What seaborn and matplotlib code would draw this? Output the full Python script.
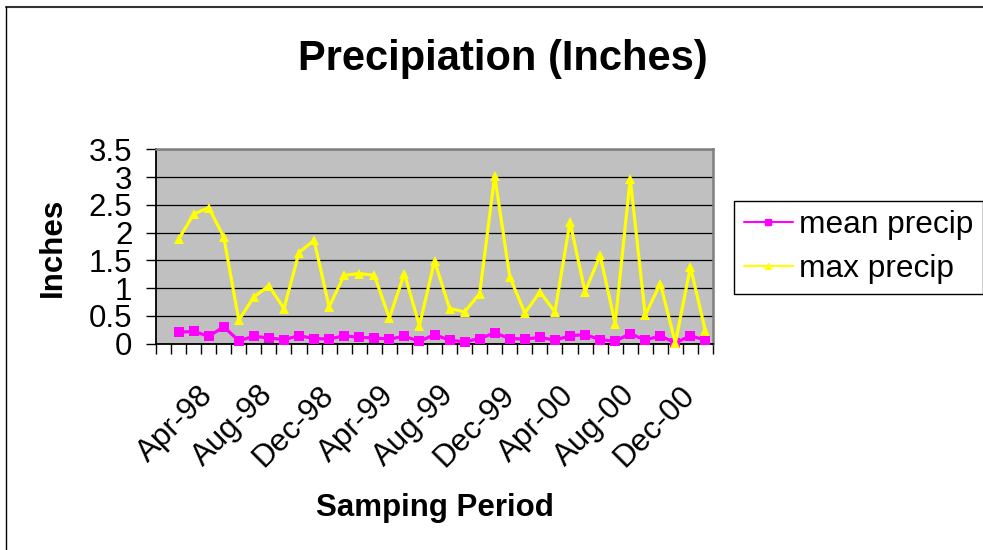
import pandas as pd
import matplotlib.pyplot as plt
import seaborn as sns
from matplotlib.lines import Line2D

# categories on the axis (Jan-98 has no data)
months = ['Jan-98', 'Feb-98', 'Mar-98', 'Apr-98', 'May-98', 'Jun-98', 'Jul-98', 'Aug-98',
          'Sep-98', 'Oct-98', 'Nov-98', 'Dec-98', 'Jan-99', 'Feb-99', 'Mar-99', 'Apr-99',
          'May-99', 'Jun-99', 'Jul-99', 'Aug-99', 'Sep-99', 'Oct-99', 'Nov-99', 'Dec-99',
          'Jan-00', 'Feb-00', 'Mar-00', 'Apr-00', 'May-00', 'Jun-00', 'Jul-00', 'Aug-00',
          'Sep-00', 'Oct-00', 'Nov-00', 'Dec-00', 'Jan-01']
tick_months = ['Apr-98', 'Aug-98', 'Dec-98', 'Apr-99', 'Aug-99', 'Dec-99',
               'Apr-00', 'Aug-00', 'Dec-00']
data_months = months[1:]

mean_precip = [0.20, 0.22, 0.13, 0.30, 0.05, 0.13, 0.10, 0.07, 0.14, 0.09, 0.08, 0.14,
               0.11, 0.10, 0.08, 0.13, 0.04, 0.16, 0.06, 0.03, 0.09, 0.19, 0.09, 0.08,
               0.11, 0.06, 0.14, 0.16, 0.07, 0.04, 0.18, 0.06, 0.14, 0.01, 0.14, 0.06]
max_precip = [1.88, 2.33, 2.45, 1.92, 0.42, 0.84, 1.04, 0.63, 1.64, 1.86, 0.66, 1.23,
              1.26, 1.23, 0.46, 1.26, 0.32, 1.49, 0.63, 0.57, 0.90, 3.02, 1.20, 0.55,
              0.93, 0.57, 2.19, 0.93, 1.59, 0.36, 2.97, 0.51, 1.08, 0.01, 1.38, 0.22]

sns.set_style('white')
plt.rcParams['font.family'] = ['Liberation Sans', 'DejaVu Sans']
plt.rcParams['text.color'] = 'black'
plt.rcParams['xtick.color'] = 'black'
plt.rcParams['ytick.color'] = 'black'
plt.rcParams['axes.labelcolor'] = 'black'

df = pd.DataFrame({
    'month': data_months * 2,
    'precip': mean_precip + max_precip,
    'series': ['mean precip'] * len(mean_precip) + ['max precip'] * len(max_precip),
})
df['pos'] = df['month'].map(months.index)

fig = plt.figure(figsize=(9.83, 5.5), dpi=100)
ax = fig.add_axes([156 / 983, 1 - 343.5 / 550, 557 / 983, 194.2 / 550])
ax.set_facecolor('#C0C0C0')

colors = {'mean precip': '#FF00FF', 'max precip': '#FFFF00'}
sns.lineplot(data=df, x='pos', y='precip', hue='series', style='series',
             hue_order=['mean precip', 'max precip'], style_order=['mean precip', 'max precip'],
             palette=colors, markers={'mean precip': 's', 'max precip': '^'}, dashes=False,
             markersize=7.5, linewidth=2.3, markeredgewidth=0, sort=False, legend=False,
             clip_on=False, ax=ax, zorder=3)

ax.set_xlim(-0.5, len(months) - 0.5)
ax.set_ylim(0, 3.5)
ax.set_yticks([i * 0.5 for i in range(8)])
ax.set_yticklabels(['0', '0.5', '1', '1.5', '2', '2.5', '3', '3.5'], fontsize=22.5)
ax.yaxis.grid(True, color='black', linewidth=0.9)
ax.xaxis.grid(False)
ax.set_axisbelow(True)

ax.set_xticks([months.index(m) for m in tick_months])
ax.set_xticklabels(tick_months, fontsize=22.5)
ax.set_xticks([i - 0.5 for i in range(len(months) + 1)], minor=True)
ax.tick_params(axis='x', which='major', length=0, pad=34)
ax.tick_params(axis='x', which='minor', length=7, width=1, color='black', direction='out', bottom=True)
ax.tick_params(axis='y', which='major', length=7, width=1, color='black', direction='out', left=True, pad=10)
for lbl in ax.get_xticklabels():
    lbl.set_rotation(45)
    lbl.set_ha('right')
    lbl.set_va('center')
    lbl.set_rotation_mode('anchor')
ax.set_xlabel('')
ax.set_ylabel('')

for side in ['left', 'bottom']:
    ax.spines[side].set_color('black')
    ax.spines[side].set_linewidth(1.3)
for side in ['top', 'right']:
    ax.spines[side].set_color('#808080')
    ax.spines[side].set_linewidth(1.8)

fig.text(503 / 983, 1 - 70 / 550, 'Precipiation (Inches)', ha='center', va='baseline',
         fontsize=30, fontweight='bold')
fig.text(435 / 983, 1 - 516 / 550, 'Samping Period', ha='center', va='baseline',
         fontsize=22.5, fontweight='bold')
fig.text(53 / 983, 1 - 247 / 550, 'Inches', ha='center', va='center', rotation=90,
         fontsize=22.5, fontweight='bold')

handles = [Line2D([0], [0], color=colors['mean precip'], marker='s', markersize=5, lw=1.5),
           Line2D([0], [0], color=colors['max precip'], marker='^', markersize=5, lw=1.5)]
leg = fig.legend(handles, ['mean precip', 'max precip'], loc='upper left',
                 bbox_to_anchor=(734 / 983, 1 - 200.7 / 550), frameon=True, fancybox=False,
                 edgecolor='black', framealpha=1, fontsize=22.8, borderpad=0.3,
                 labelspacing=0.45, handlelength=1.55, handletextpad=0.2, borderaxespad=0)
leg.get_frame().set_linewidth(1.0)

# outer chart border
fig.add_artist(Line2D([6 / 983, 1], [1 - 7 / 550, 1 - 7 / 550], color='#333333', lw=1.5))
fig.add_artist(Line2D([6 / 983, 6 / 983], [0, 1 - 7 / 550], color='black', lw=1))

fig.savefig('out.png', dpi=100)
